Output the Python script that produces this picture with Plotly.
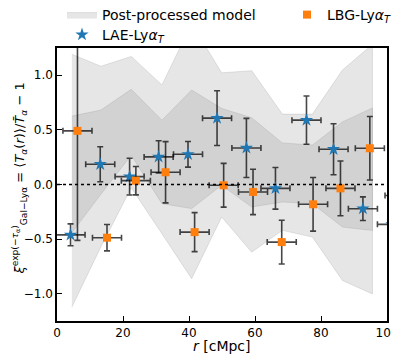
import plotly.graph_objects as go

# ---- data ----
lae_r = [4.1, 13.1, 22.0, 30.8, 39.7, 48.5, 57.4, 66.2, 75.6, 83.8, 92.7, 101.5]
lae_v = [-0.46, 0.185, 0.072, 0.252, 0.276, 0.606, 0.334, -0.035, 0.588, 0.322, -0.221, -0.364]
lae_err = [0.10, 0.16, 0.168, 0.147, 0.117, 0.25, 0.27, 0.19, 0.22, 0.233, 0.108, 0.15]

lbg_r = [6.2, 15.15, 23.9, 32.9, 41.7, 50.5, 59.4, 68.1, 77.6, 85.9, 94.8, 103.8]
lbg_v = [0.49, -0.486, 0.035, 0.112, -0.435, -0.007, -0.068, -0.526, -0.181, -0.035, 0.331, -0.10]
lbg_err = [1.0, 0.12, 0.13, 0.28, 0.178, 0.2, 0.207, 0.2, 0.245, 0.25, 0.29, 0.2]

r_halfbin = [4.4] * 12

band_r = [4.5, 13.3, 22.5, 31.8, 40.8, 49.9, 59.0, 68.3, 77.4, 86.5, 95.6]
outer_hi = [1.19, 1.08, 1.17, 0.91, 1.47, 1.02, 1.04, 0.643, 0.643, 1.046, 1.28]
outer_lo = [-1.12, -0.57, -0.03, -0.45, -0.86, -0.297, -0.618, -0.419, -0.48, -0.877, -1.0]
inner_hi = [0.625, 0.68, 0.87, 0.588, 0.863, 0.695, 0.61, 0.38, 0.36, 0.572, 0.70]
inner_lo = [-0.44, -0.09, 0.267, -0.175, -0.22, -0.007, -0.206, -0.16, -0.175, -0.389, -0.42]

x_ticks = [0, 20, 40, 60, 80, 100]
y_ticks = [-1.0, -0.5, 0.0, 0.5, 1.0]

FONT = "DejaVu Sans"
band_fill = "rgba(128,128,128,0.2)"
ecol = "rgba(0,0,0,0.72)"

# page body adds an 8px offset, so the figure is drawn slightly smaller
W, H = 391, 346
ML, MR, MT, MB = 49, 12, 40, 33

fig = go.Figure()

# outer band (legend entry)
fig.add_trace(go.Scatter(
    x=band_r + band_r[::-1], y=outer_hi + outer_lo[::-1],
    fill="toself", fillcolor=band_fill, mode="lines",
    line=dict(color=band_fill, width=1),
    name="Post-processed model", legend="legend", hoverinfo="skip"))
# inner band
fig.add_trace(go.Scatter(
    x=band_r + band_r[::-1], y=inner_hi + inner_lo[::-1],
    fill="toself", fillcolor=band_fill, mode="lines",
    line=dict(color=band_fill, width=1),
    showlegend=False, hoverinfo="skip"))


def err(vals, w):
    return dict(type="data", array=vals, visible=True, color=ecol, thickness=1.6, width=w)


fig.add_trace(go.Scatter(
    x=lae_r, y=lae_v, mode="markers", name="LAE-Ly<i>α</i><sub><i>T</i></sub>",
    marker=dict(symbol="star", size=10, color="#1f77b4", line=dict(width=0)),
    error_y=err(lae_err, 3), error_x=err(r_halfbin, 3), legend="legend3"))

fig.add_trace(go.Scatter(
    x=lbg_r, y=lbg_v, mode="markers", name="LBG-Ly<i>α</i><sub><i>T</i></sub>",
    marker=dict(symbol="square", size=8, color="#ff7f0e", line=dict(width=0)),
    error_y=err(lbg_err, 3), error_x=err(r_halfbin, 3), legend="legend2"))

fig.add_shape(type="line", xref="paper", x0=0, x1=1, yref="y", y0=0, y1=0,
              line=dict(color="black", width=1.5, dash="dot"), layer="above")

pw = W - ML - MR
ph = H - MT - MB

fig.add_annotation(
    text="<i>ξ</i><sup>exp(−<i>τ</i><sub>α</sub>)</sup><sub>Gal−Lyα</sub> = ⟨<i>T</i><sub><i>α</i></sub>(<i>r</i>)⟩/<i>T̄</i><sub><i>α</i></sub> − 1",
    xref="paper", yref="paper", x=(12 - ML) / pw, y=0.522, textangle=-90,
    xanchor="center", yanchor="middle", showarrow=False, font=dict(size=13))
fig.add_annotation(
    text="<i>r</i> [cMpc]", xref="paper", yref="paper", x=0.5, y=-(338 - (H - MB)) / ph,
    xanchor="center", yanchor="middle", showarrow=False, font=dict(size=14))


def leg(xpx, ypx):
    return dict(x=xpx / W, y=1.0 - ypx / H, xanchor="left", yanchor="middle",
                xref="container", yref="container", orientation="v",
                bgcolor="rgba(0,0,0,0)", font=dict(size=14), borderwidth=0)


fig.update_layout(
    width=W, height=H,
    margin=dict(l=ML, r=MR, t=MT, b=MB, autoexpand=False),
    paper_bgcolor="white", plot_bgcolor="white",
    font=dict(family=FONT, size=14, color="black"),
    showlegend=True,
    legend=leg(54, 7),
    legend2=leg(279, 7),
    legend3=leg(54, 27),
    xaxis=dict(range=[0, 100], tickvals=x_ticks, ticktext=[str(t) for t in x_ticks],
               ticks="inside", ticklen=5, tickwidth=1, tickcolor="black",
               showline=True, linecolor="black", linewidth=1.5, mirror=True,
               showgrid=False, zeroline=False, tickfont=dict(size=12), automargin=False),
    yaxis=dict(range=[-1.247, 1.247], tickvals=y_ticks,
               ticktext=["−1.0", "−0.5", "0.0", "0.5", "1.0"],
               ticks="inside", ticklen=5, tickwidth=1, tickcolor="black",
               showline=True, linecolor="black", linewidth=1.5, mirror=True,
               showgrid=False, zeroline=False, tickfont=dict(size=12), automargin=False),
)

fig.write_html("out.html")
